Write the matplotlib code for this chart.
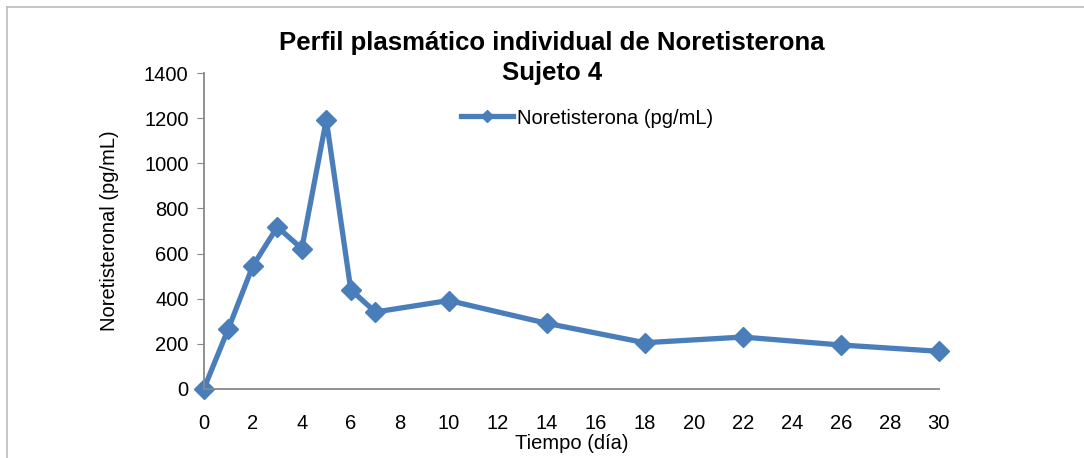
import matplotlib
matplotlib.use("Agg")
import matplotlib.pyplot as plt
from matplotlib.lines import Line2D

plt.rcParams['font.family'] = ['Liberation Sans', 'DejaVu Sans']

dias = [0, 1, 2, 3, 4, 5, 6, 7, 10, 14, 18, 22, 26, 30]
noret = [0, 266, 545, 718, 622, 1193, 440, 341, 392, 291, 205, 230, 195, 167]
xticks = list(range(0, 31, 2))
yticks = list(range(0, 1401, 200))

fig = plt.figure(figsize=(10.84, 4.58), dpi=100)
ax = fig.add_axes([0.188, 0.1507, 0.678, 0.6899])

azul = '#4a7ebb'
ax.plot(dias, noret, color=azul, lw=3.8, marker='D', markersize=10.5,
        label='Noretisterona (pg/mL)', clip_on=False)

ax.set_xlim(0, 30)
ax.set_ylim(0, 1400)
ax.set_xticks(xticks)
ax.set_yticks(yticks)
ax.tick_params(axis='x', length=0, pad=18, labelsize=14.5)
ax.tick_params(axis='y', length=5, color='#888888', labelsize=14.5, pad=6)
for s in ['top', 'right']:
    ax.spines[s].set_visible(False)
for s in ['left', 'bottom']:
    ax.spines[s].set_color('#888888')
    ax.spines[s].set_linewidth(1.3)

ax.set_xlabel('Tiempo (día)', fontsize=14.5, labelpad=1)
ax.set_ylabel('Noretisteronal (pg/mL)', fontsize=14.5, labelpad=18)
fig.text(0.509, 0.873, 'Perfil plasmático individual de Noretisterona\nSujeto 4',
         ha='center', va='center', fontsize=18.5, fontweight='bold', linespacing=1.3)

ax.legend(loc='upper left', bbox_to_anchor=(0.325, 0.945), frameon=False,
          fontsize=14.5, handlelength=2.6, handletextpad=0.2, markerscale=0.6)

# marco exterior
fig.add_artist(Line2D([7/1084, 1], [1 - 7/458, 1 - 7/458], color='#bbbbbb', lw=1.2))
fig.add_artist(Line2D([7/1084, 7/1084], [0, 1 - 7/458], color='#bbbbbb', lw=1.2))

fig.savefig('out.png', dpi=100)
